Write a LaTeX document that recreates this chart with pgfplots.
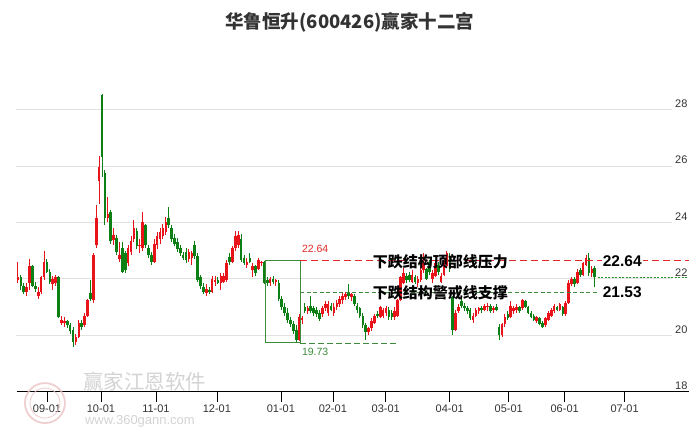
\documentclass[border=0pt]{standalone}
\usepackage{pgfplots}
\pgfplotsset{compat=1.18}
\usepackage{pgfplotstable}
\usepackage{fontspec}
\setmainfont{Liberation Sans}
\newfontfamily\cjk{Noto Sans CJK SC}
\definecolor{upc}{RGB}{232,20,26}
\definecolor{dnc}{RGB}{12,128,20}
\definecolor{curg}{RGB}{40,150,40}
\definecolor{boxg}{RGB}{60,140,60}
\definecolor{resr}{RGB}{225,40,40}
\definecolor{gridc}{RGB}{226,226,226}
\definecolor{txt}{RGB}{51,51,51}
\definecolor{wm}{RGB}{200,200,200}
\definecolor{wmr}{RGB}{235,195,195}

\pgfplotstableread{
i o h l c
0 21.95 22.60 21.85 22.05
3 21.55 21.85 21.40 21.70
4 21.85 22.70 21.60 22.45
7 21.40 21.70 21.30 21.55
8 21.55 22.10 21.45 22.05
9 22.05 23.00 21.95 22.60
12 21.80 22.10 21.60 22.00
13 21.85 22.15 21.75 22.05
15 20.45 20.70 20.35 20.55
16 20.45 20.65 20.30 20.52
20 19.75 20.05 19.65 19.95
21 19.95 20.55 19.90 20.45
23 20.35 20.80 20.30 20.70
24 20.70 21.30 20.65 21.25
26 21.25 22.90 21.15 22.85
27 23.20 24.60 23.10 24.15
28 25.45 26.35 24.65 25.95
31 24.15 24.90 24.00 24.30
33 23.38 23.80 23.20 23.55
35 22.70 23.30 22.60 22.85
38 22.55 23.20 22.45 23.10
39 22.95 23.50 22.85 23.35
40 23.40 24.10 23.30 23.80
42 23.15 23.40 22.90 23.20
43 23.10 24.35 23.00 24.00
47 22.60 23.40 22.55 23.25
48 23.20 23.65 23.05 23.50
49 23.40 23.80 23.25 23.65
50 23.50 23.95 23.40 23.80
51 23.65 24.20 23.55 24.00
59 22.70 23.05 22.60 22.95
60 22.75 23.00 22.50 22.90
65 21.50 21.80 21.40 21.65
67 21.55 22.10 21.50 22.00
68 21.90 22.10 21.75 21.95
70 21.85 22.20 21.60 22.10
71 21.90 22.20 21.85 22.10
72 21.95 22.65 21.90 22.55
74 22.60 23.15 22.55 23.10
75 23.10 23.70 23.00 23.50
76 23.20 23.70 23.10 23.55
79 22.50 22.75 22.40 22.60
81 22.30 22.55 22.05 22.45
83 22.35 22.75 22.30 22.65
84 22.55 22.62 22.45 22.60
87 21.85 22.05 21.75 21.98
89 21.90 22.00 21.75 21.95
97 19.85 20.75 19.80 20.65
98 20.55 20.70 20.40 20.60
100 20.85 21.05 20.75 20.98
105 20.75 21.05 20.65 20.95
106 20.95 21.20 20.85 21.10
107 20.80 21.20 20.70 21.10
109 20.80 21.15 20.70 21.00
110 21.00 21.25 20.90 21.15
111 21.10 21.40 21.00 21.30
112 21.25 21.50 21.10 21.40
113 21.35 21.55 21.25 21.48
115 21.35 21.50 21.20 21.45
121 20.10 20.30 20.00 20.25
122 20.25 20.60 20.15 20.50
123 20.45 20.75 20.40 20.70
125 20.65 21.05 20.60 21.00
126 20.70 20.95 20.60 20.90
127 20.80 21.05 20.70 20.95
130 20.65 21.00 20.55 20.85
131 20.70 21.30 20.65 21.25
132 21.25 22.10 21.20 22.05
133 21.85 22.40 21.80 22.20
136 21.90 22.30 21.85 22.15
138 21.85 22.10 21.70 22.00
139 21.95 22.40 21.90 22.30
140 22.30 22.90 22.20 22.55
143 22.00 22.30 21.85 22.20
144 22.10 22.65 22.05 22.55
146 21.90 22.20 21.85 22.10
147 22.15 22.70 22.10 22.60
148 22.45 23.00 22.40 22.90
151 20.20 20.90 20.15 20.80
152 20.85 21.10 20.80 21.00
157 20.55 20.80 20.45 20.70
158 20.70 20.95 20.65 20.90
159 20.85 21.00 20.75 20.95
161 20.90 21.10 20.85 21.05
162 21.00 21.15 20.85 21.05
164 20.90 21.05 20.80 20.95
167 20.00 20.45 19.95 20.40
168 20.40 20.75 20.30 20.65
170 20.65 21.20 20.60 21.05
171 20.85 21.05 20.75 20.95
172 20.90 21.10 20.80 21.00
174 20.95 21.30 20.90 21.25
179 20.50 20.70 20.45 20.65
182 20.35 20.65 20.30 20.60
183 20.55 20.85 20.50 20.78
184 20.70 20.95 20.65 20.90
185 20.85 21.10 20.80 21.05
187 20.90 21.15 20.85 21.10
189 20.75 21.20 20.70 21.15
190 21.15 21.95 21.10 21.85
191 21.80 22.05 21.75 21.98
193 21.85 22.35 21.80 22.25
195 22.15 22.60 22.10 22.55
196 22.50 22.85 22.45 22.75
198 22.20 22.45 22.05 22.35
}\upT

\pgfplotstableread{
i o h l c
1 22.05 22.15 21.60 21.75
2 21.75 21.85 21.45 21.55
5 22.45 22.50 21.70 21.75
6 21.75 21.90 21.55 21.65
10 22.60 22.70 22.20 22.25
11 22.25 22.35 21.80 21.90
14 22.05 22.10 20.60 20.65
17 20.50 20.55 20.25 20.35
18 20.35 20.45 20.05 20.15
19 20.20 20.30 19.60 19.75
22 20.45 20.55 20.20 20.30
25 21.50 21.95 21.20 21.30
29 28.50 28.55 25.60 26.30
30 25.75 25.85 23.90 24.15
32 24.35 24.45 23.25 23.35
34 23.45 23.55 22.85 22.95
36 23.10 23.30 22.20 22.25
37 22.90 23.00 22.20 22.30
41 23.70 23.80 23.05 23.15
44 23.90 23.95 23.10 23.20
45 23.10 23.20 22.75 22.85
46 22.85 22.95 22.50 22.60
52 24.15 24.55 23.80 23.90
53 23.80 23.90 23.30 23.40
54 23.45 23.60 23.15 23.25
55 23.30 23.45 22.95 23.05
56 23.10 23.20 22.80 22.90
57 22.85 22.95 22.65 22.75
58 22.95 23.10 22.55 22.65
61 23.20 23.35 22.70 22.80
62 22.80 22.90 21.90 21.96
63 22.05 22.15 21.65 21.75
64 21.70 21.85 21.45 21.55
66 21.60 21.70 21.45 21.55
69 21.95 22.05 21.80 21.85
73 22.78 22.90 22.50 22.58
77 23.40 23.60 22.60 22.65
78 22.75 22.85 22.50 22.55
80 22.75 22.90 22.55 22.60
82 22.45 22.50 22.10 22.20
85 22.60 22.64 21.80 21.86
86 21.95 22.05 21.75 21.85
88 21.98 22.10 21.80 21.90
90 21.85 21.95 21.20 21.30
91 21.30 21.40 20.90 21.00
92 21.00 21.15 20.70 20.80
93 20.80 20.95 20.45 20.55
94 20.55 20.65 20.30 20.40
95 20.40 20.50 20.05 20.15
96 20.20 20.35 19.73 19.85
99 21.00 21.15 20.80 20.85
101 21.05 21.40 20.80 20.85
102 20.95 21.05 20.70 20.80
103 20.90 21.00 20.65 20.75
104 20.80 20.90 20.50 20.58
108 21.05 21.15 20.85 20.90
114 21.55 21.80 21.30 21.40
116 21.40 21.45 21.05 21.10
117 21.05 21.15 20.80 20.90
118 20.95 21.00 20.60 20.70
119 20.70 20.80 20.25 20.35
120 20.35 20.45 19.85 20.10
124 20.75 20.85 20.60 20.68
128 20.90 21.00 20.55 20.65
129 20.80 20.90 20.55 20.65
134 22.10 22.20 21.85 21.95
135 22.15 22.25 21.90 21.95
137 22.05 22.15 21.80 21.88
141 22.35 22.40 21.95 22.00
142 22.55 22.65 22.15 22.25
145 22.50 22.60 22.15 22.25
149 22.80 22.90 22.25 22.35
150 21.35 21.40 20.00 20.20
153 21.20 21.35 20.95 21.05
154 21.05 21.15 20.85 20.95
155 20.95 21.05 20.75 20.85
156 20.90 20.95 20.55 20.62
160 20.95 21.05 20.80 20.88
163 21.05 21.10 20.80 20.85
165 21.00 21.10 20.85 20.90
166 20.30 20.40 19.85 20.00
169 20.75 20.85 20.55 20.62
173 21.00 21.05 20.80 20.85
175 21.20 21.25 20.95 21.00
176 21.00 21.05 20.75 20.80
177 20.80 20.85 20.60 20.65
178 20.70 20.75 20.50 20.55
180 20.60 20.65 20.35 20.40
181 20.45 20.50 20.25 20.30
186 21.00 21.05 20.85 20.90
188 21.00 21.05 20.70 20.75
192 22.00 22.05 21.70 21.80
194 22.30 22.40 22.05 22.15
197 22.75 22.92 22.10 22.20
199 22.40 22.45 21.70 22.05
}\dnT

\pgfplotsset{
  candle/.style 2 args={draw=none, mark=none, forget plot,
    error bars/.cd, y dir=plus, y explicit, error mark=none,
    error bar style={draw=#1, solid, line width=#2}},
}

\begin{document}
\begin{tikzpicture}
\begin{axis}[
  scale only axis, width=672pt, height=392pt,
  xmin=17, xmax=689, ymin=18, ymax=31.876,
  clip=false,
  axis x line*=bottom, axis y line*=right,
  x axis line style={draw=black, line width=0.8pt, -},
  y axis line style={draw=none},
  xtick={47,101,156,217,281,333,386,450,509,565,625},
  xticklabels={09-01,10-01,11-01,12-01,01-01,02-01,03-01,04-01,05-01,06-01,07-01},
  xtick align=outside, major tick length=10pt,
  xtick style={draw=black, line width=0.6pt},
  ytick={18,20,22,24,26,28},
  ytick style={draw=none},
  yticklabel style={anchor=south east, inner sep=1pt, yshift=1pt},
  ticklabel style={font=\fontsize{11}{13}\selectfont, text=txt},
  /pgf/number format/assume math mode=true,
]
% bounding area of the whole picture
\path (axis cs:0,16.761) rectangle (axis cs:689,31.876);

% horizontal grid
\pgfplotsinvokeforeach{20,22,24,26,28}{
  \addplot[gridc, line width=0.8pt, forget plot] coordinates {(16,#1) (672,#1)};
}

% wicks
\addplot[candle={upc}{1pt}]
  table[x expr=18+2.9*\thisrow{i}, y=l, y error plus expr=\thisrow{h}-\thisrow{l}]{\upT};
\addplot[candle={dnc}{1pt}]
  table[x expr=18+2.9*\thisrow{i}, y=l, y error plus expr=\thisrow{h}-\thisrow{l}]{\dnT};
% bodies
\addplot[candle={upc}{2.6pt}]
  table[x expr=18+2.9*\thisrow{i}, y=o, y error plus expr={max(\thisrow{c}-\thisrow{o},0.035)}]{\upT};
\addplot[candle={dnc}{2.6pt}]
  table[x expr=18+2.9*\thisrow{i}, y=c, y error plus expr={max(\thisrow{o}-\thisrow{c},0.035)}]{\dnT};

% structure box and lines
\addplot[boxg, line width=0.9pt, forget plot] coordinates {(265.5,22.64) (300.5,22.64) (300.5,19.73) (265.5,19.73)} -- cycle;
\addplot[resr, line width=0.8pt, dash pattern=on 7pt off 4pt, forget plot] coordinates {(300.5,22.64) (689,22.64)};
\addplot[boxg, line width=0.8pt, dash pattern=on 4pt off 2.5pt, forget plot] coordinates {(300.5,21.53) (597,21.53)};
\addplot[boxg, line width=0.8pt, dash pattern=on 6pt off 3pt, forget plot] coordinates {(300.5,19.73) (396,19.73)};
\addplot[curg, line width=0.8pt, dash pattern=on 2pt off 1.5pt, forget plot] coordinates {(598,22.04) (689,22.04)};

% labels
\node[anchor=west, inner sep=0pt, text=resr, font=\fontsize{10.5}{12}\selectfont] at (axis cs:302,23.06) {22.64};
\node[anchor=west, inner sep=0pt, text=boxg, font=\fontsize{10.5}{12}\selectfont] at (axis cs:302,19.40) {19.73};
\node[anchor=west, inner sep=0pt, font=\cjk\bfseries\fontsize{15}{17}\selectfont] at (axis cs:373,22.62) {下跌结构顶部线压力};
\node[anchor=west, inner sep=0pt, font=\cjk\bfseries\fontsize{15}{17}\selectfont] at (axis cs:373,21.50) {下跌结构警戒线支撑};
\node[anchor=west, inner sep=1pt, fill=white, font=\bfseries\fontsize{15.5}{17}\selectfont] at (axis cs:602,22.64) {22.64};
\node[anchor=west, inner sep=1pt, font=\bfseries\fontsize{15.5}{17}\selectfont] at (axis cs:602,21.53) {21.53};

% title
\node[text=txt, font=\cjk\bfseries\fontsize{18.5}{21}\selectfont] at (axis cs:350,31.10) {华鲁恒升(600426)赢家十二宫};

% watermark
\draw[wmr, line width=1.8pt, opacity=0.8] (axis cs:45,17.6) circle[radius=20pt];
\draw[wmr, line width=0.9pt, opacity=0.8] (axis cs:45,17.6) circle[radius=15pt];
\node[text=wm, opacity=0.8, font=\cjk\fontsize{20.5}{22}\selectfont] at (axis cs:145,18.35) {赢家江恩软件};
\node[text=wm, opacity=0.8, font=\fontsize{13}{15}\selectfont] at (axis cs:140,16.97) {www.360gann.com};
\end{axis}
\end{tikzpicture}
\end{document}
